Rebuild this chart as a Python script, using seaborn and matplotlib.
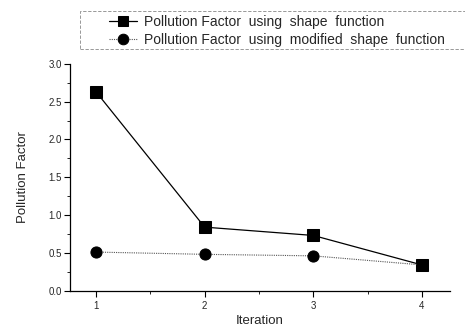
import matplotlib
matplotlib.use("Agg")
import matplotlib.pyplot as plt
import pandas as pd
import seaborn as sns
from matplotlib.patches import Rectangle
from matplotlib.ticker import MultipleLocator, FormatStrFormatter

iterations = [1, 2, 3, 4]
pf_shape = [2.63, 0.84, 0.73, 0.34]
pf_modified = [0.51, 0.48, 0.46, 0.34]
label_shape = "Pollution Factor  using  shape  function"
label_modified = "Pollution Factor  using  modified  shape  function"

sns.set_theme(style="ticks")
plt.rcParams["font.family"] = ["Liberation Sans", "DejaVu Sans"]

df = pd.DataFrame({"iteration": iterations, "shape": pf_shape, "modified": pf_modified})

fig = plt.figure(figsize=(4.65, 3.31), dpi=100)
ax = fig.add_axes([0.1505, 0.122, 0.8175, 0.685])

sns.lineplot(data=df, x="iteration", y="shape", ax=ax, color="black", lw=0.9,
             marker="s", markersize=8, markeredgecolor="black", label=label_shape)
sns.lineplot(data=df, x="iteration", y="modified", ax=ax, color="#555555", lw=0.8,
             linestyle=(0, (1, 1)), marker="o", markersize=8, markerfacecolor="black",
             markeredgecolor="black", label=label_modified)

ax.set_xlim(0.76, 4.26)
ax.set_ylim(0, 3.0)
ax.xaxis.set_major_locator(MultipleLocator(1))
ax.xaxis.set_minor_locator(MultipleLocator(0.5))
ax.yaxis.set_major_locator(MultipleLocator(0.5))
ax.yaxis.set_minor_locator(MultipleLocator(0.25))
ax.yaxis.set_major_formatter(FormatStrFormatter("%.1f"))
ax.tick_params(which="major", length=4, width=0.8, labelsize=7, color="black")
ax.tick_params(which="minor", length=2, width=0.6, color="black")
ax.tick_params(axis="y", pad=2)

for side in ["top", "right"]:
    ax.spines[side].set_visible(False)
for side in ["left", "bottom"]:
    ax.spines[side].set_color("black")
    ax.spines[side].set_linewidth(0.9)

ax.set_xlabel("Iteration", fontsize=9.5, labelpad=3)
ax.set_ylabel("Pollution Factor", fontsize=9.5, labelpad=14)

# legend sits inside a dashed box across the top of the figure
box = Rectangle((80 / 465, 1 - 49 / 331), 1, 38 / 331, transform=fig.transFigure,
                fill=False, edgecolor="#888888", linewidth=0.6,
                linestyle=(0, (4, 2)), clip_on=False)
fig.patches.append(box)

leg = ax.legend(loc="center left", bbox_to_anchor=(102 / 465, 1 - 31 / 331),
                bbox_transform=fig.transFigure, fontsize=10, frameon=False,
                handlelength=2.0, handletextpad=0.5, borderpad=0.0,
                labelspacing=0.25, markerscale=0.95)

fig.savefig("out.png", dpi=100)
